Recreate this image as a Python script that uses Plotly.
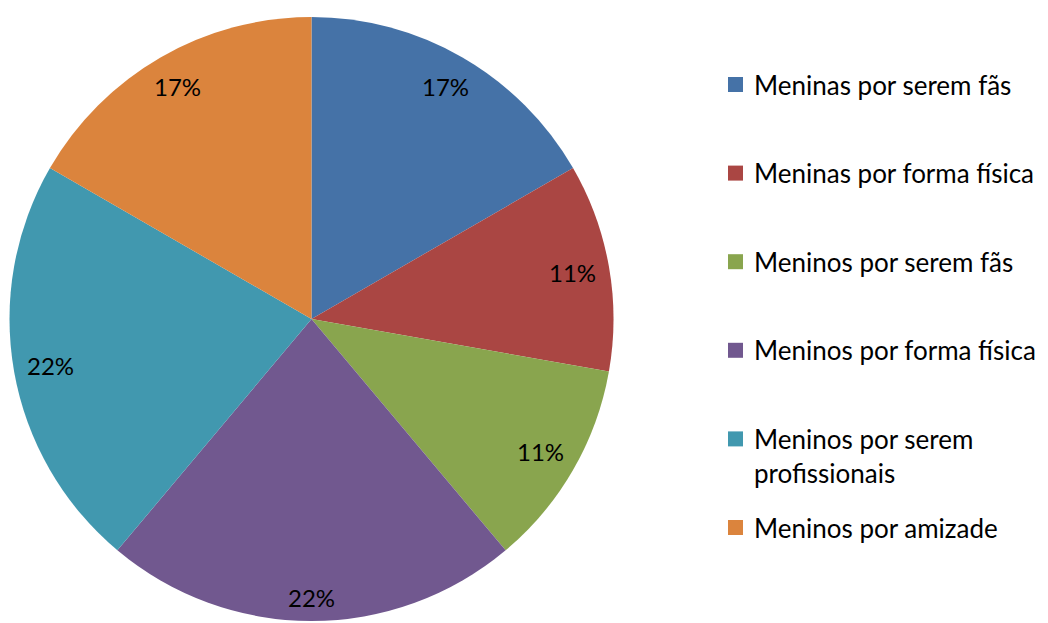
import math
import plotly.graph_objects as go

categories = [
    "Meninas por serem fãs",
    "Meninas por forma física",
    "Meninos por serem fãs",
    "Meninos por forma física",
    "Meninos por serem<br>profissionais",
    "Meninos por amizade",
]
values = [3, 2, 2, 4, 4, 3]
colors = ["#4572A7", "#AA4643", "#89A54E", "#71588F", "#4198AF", "#DB843D"]

W, H = 1048, 623
OFF = 8  # default page body margin in the browser

# pie geometry (page pixels)
CX, CY, R = 311.5, 319, 302
fx, fy = CX - OFF, CY - OFF

LABEL_SIZE = 24
LEG_SIZE = 26

fig = go.Figure(
    go.Pie(
        labels=[c.replace("<br>", " ") for c in categories],
        values=values,
        sort=False,
        direction="clockwise",
        rotation=0,
        marker=dict(colors=colors, line=dict(width=0)),
        textinfo="none",
        domain=dict(x=[(fx - R) / W, (fx + R) / W],
                    y=[1 - (fy + R) / H, 1 - (fy - R) / H]),
        hoverinfo="label+percent",
        showlegend=False,
    )
)

annotations = []
shapes = []

# percentage labels placed at the inner edge of each slice ("inside end")
total = sum(values)
cum = 0
half_w, half_h = 24, 12
R_in = 291
for v in values:
    mid = (cum + v / 2) / total * 2 * math.pi
    cum += v
    sx, sy = abs(math.sin(mid)), abs(math.cos(mid))
    b = 2 * (sx * half_w + sy * half_h)
    c = half_w ** 2 + half_h ** 2 - R_in ** 2
    d = (-b + math.sqrt(b * b - 4 * c)) / 2
    px = fx + d * math.sin(mid)
    py = fy - d * math.cos(mid)
    annotations.append(dict(
        x=px / W, y=1 - py / H, xref="paper", yref="paper",
        text=f"{round(v / total * 100)}%", showarrow=False,
        xanchor="center", yanchor="middle",
        font=dict(family="Lato", size=LABEL_SIZE, color="#000000"),
    ))

# legend (page pixels): first row centre and spacing
LEG_X0, LEG_Y0, LEG_DY, SQ = 728, 84.5, 88.6, 15
for i, (name, col) in enumerate(zip(categories, colors)):
    yc = LEG_Y0 + i * LEG_DY - OFF
    x0 = LEG_X0 - OFF
    shapes.append(dict(
        type="rect", xref="paper", yref="paper",
        x0=x0 / W, x1=(x0 + SQ) / W,
        y0=1 - (yc + SQ / 2) / H, y1=1 - (yc - SQ / 2) / H,
        fillcolor=col, line=dict(width=0),
    ))
    annotations.append(dict(
        x=(x0 + 25) / W, y=1 - (yc - 0.65 * LEG_SIZE) / H,
        xref="paper", yref="paper", text=name, showarrow=False,
        xanchor="left", yanchor="top", align="left", borderpad=0,
        font=dict(family="Lato", size=LEG_SIZE, color="#000000"),
    ))

fig.update_layout(
    width=W,
    height=H,
    margin=dict(l=0, r=0, t=0, b=0),
    paper_bgcolor="white",
    plot_bgcolor="white",
    showlegend=False,
    annotations=annotations,
    shapes=shapes,
)

fig.write_html("out.html")
